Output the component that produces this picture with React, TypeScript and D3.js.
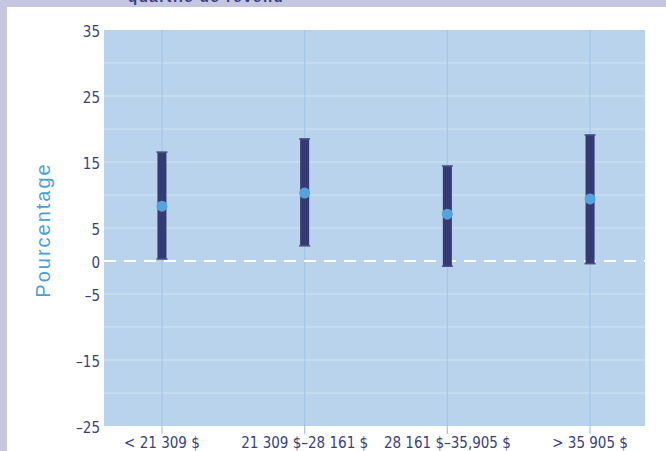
import React from "react";
import * as d3 from "d3";

const categories = ["< 21 309 $", "21 309 $–28 161 $", "28 161 $–35,905 $", "> 35 905 $"];
const estimates = [8.3, 10.3, 7.1, 9.4];
const lowerCI = [0.3, 2.3, -0.8, -0.4];
const upperCI = [16.5, 18.5, 14.4, 19.1];
const tickValues = [35, 25, 15, 5, 0, -5, -15, -25];
const gridValues = [30, 25, 20, 15, 10, 5, -5, -10, -15, -20];

const W = 666, H = 451;
const left = 104, right = 645, top = 30, bottom = 426;

export default function App() {
  const x = d3.scalePoint<string>().domain(categories).range([left, right + 3]).padding(0.406);
  const y = d3.scaleLinear().domain([-25, 35]).range([bottom, top]);
  const tickFont = "'Liberation Sans Narrow', 'DejaVu Sans Condensed', Arial, sans-serif";
  const tickColor = "#3b3f7c";
  return (
    <svg width={W} height={H} style={{ position: "absolute", left: 0, top: 0, display: "block" }}>
      <rect x={0} y={0} width={W} height={H} fill="#ffffff" />
      <rect x={0} y={0} width={W} height={7} fill="#c5c6df" />
      <rect x={0} y={0} width={7} height={H} fill="#c5c6df" />
      <text x={128} y={2} fontFamily="Arial, sans-serif" fontWeight="bold" fontSize={15} fill="#3b3f7c" letterSpacing={1.5}>quartile de revenu</text>
      <rect x={left} y={top} width={right - left} height={bottom - top} fill="#b8d3eb" />
      {gridValues.map((v) => (
        <line key={"g" + v} x1={left} x2={right} y1={y(v)} y2={y(v)} stroke="#d2e3f3" strokeWidth={1} />
      ))}
      {categories.map((c) => (
        <line key={"v" + c} x1={x(c)} x2={x(c)} y1={top} y2={bottom + 8} stroke="#a3c6e7" strokeWidth={1.2} />
      ))}
      <line x1={left} x2={right} y1={y(0)} y2={y(0)} stroke="#ffffff" strokeWidth={2} strokeDasharray="12 8" />
      {categories.map((c, i) => {
        const cx = x(c)!;
        return (
          <g key={"e" + c}>
            <rect x={cx - 4.5} y={y(upperCI[i])} width={9} height={y(lowerCI[i]) - y(upperCI[i])} fill="#353a72" />
            <line x1={cx - 5.5} x2={cx + 5.5} y1={y(upperCI[i])} y2={y(upperCI[i])} stroke="#4a4f85" strokeWidth={1.5} />
            <line x1={cx - 5.5} x2={cx + 5.5} y1={y(lowerCI[i])} y2={y(lowerCI[i])} stroke="#4a4f85" strokeWidth={1.5} />
            <circle cx={cx} cy={y(estimates[i])} r={5.5} fill="#55a3dc" />
          </g>
        );
      })}
      {tickValues.map((v) => (
        <text key={"t" + v} x={100} y={y(v)} dy="0.45em" textAnchor="end" fontFamily={tickFont} fontSize={15} fill={tickColor}>
          {v < 0 ? "\u2013" + Math.abs(v) : String(v)}
        </text>
      ))}
      {categories.map((c) => (
        <text key={"l" + c} x={x(c)} y={448} textAnchor="middle" fontFamily={tickFont} fontSize={15} fill={tickColor}>{c}</text>
      ))}
      <text transform={`translate(50,230) rotate(-90)`} textAnchor="middle" fontFamily="Arial, 'Liberation Sans', sans-serif" fontSize={20} letterSpacing={2} fill="#4a9fd8">Pourcentage</text>
    </svg>
  );
}
